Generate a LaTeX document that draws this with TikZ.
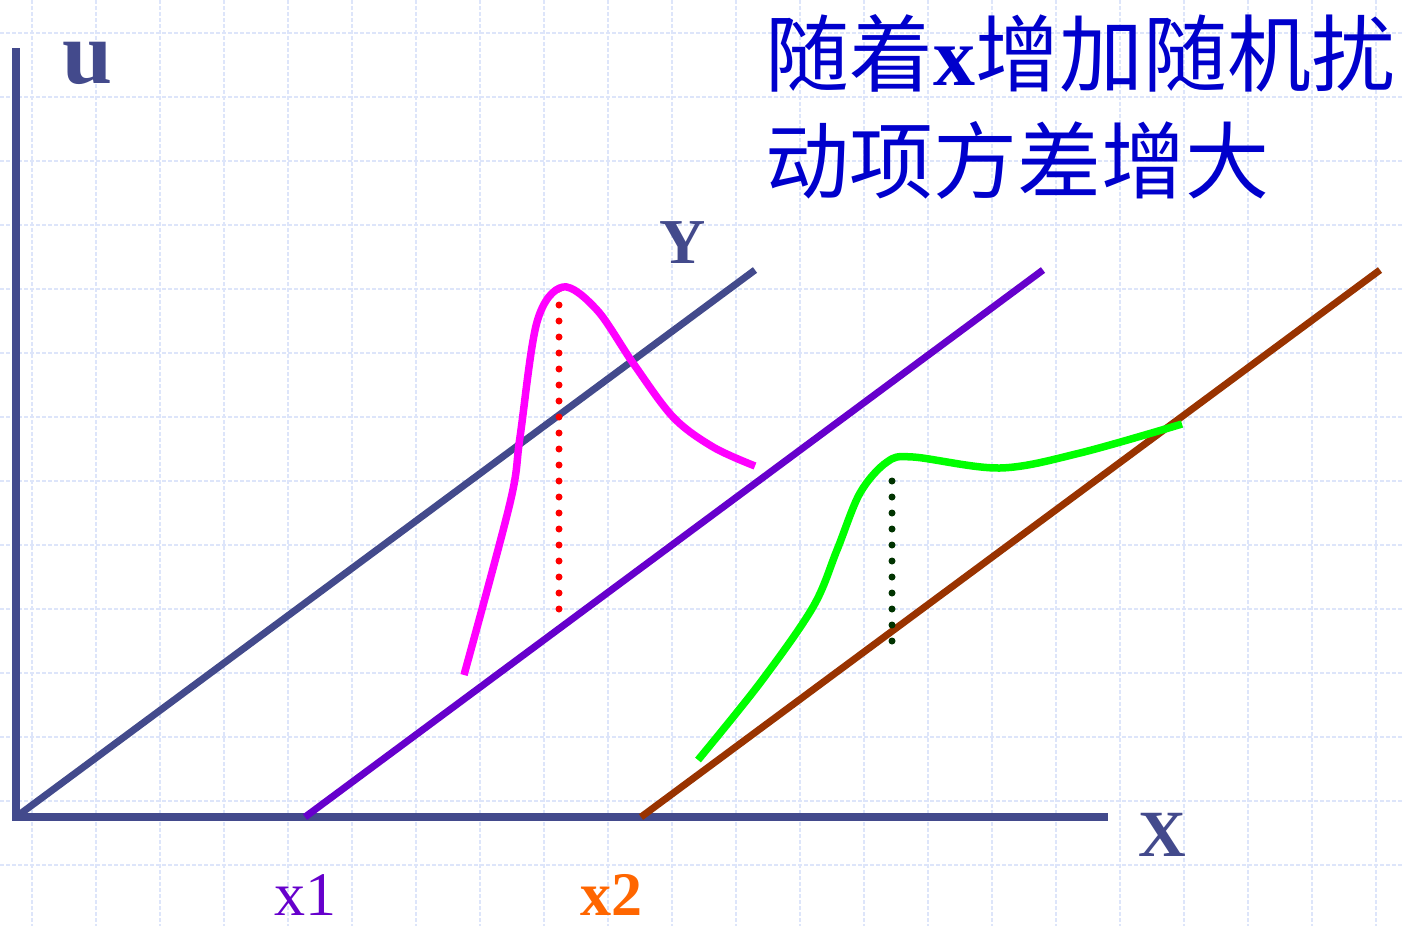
\documentclass[tikz,border=0pt]{standalone}
\usepackage{fontspec}
\setmainfont{Liberation Serif}
\newfontfamily\cjk{Noto Sans CJK SC}
\definecolor{axisblue}{HTML}{434A8C}
\definecolor{linepurple}{HTML}{6600CC}
\definecolor{linebrown}{HTML}{993300}
\definecolor{gridblue}{HTML}{DDE5FA}
\definecolor{titleblue}{HTML}{0000CC}
\definecolor{xorange}{HTML}{FF6600}
\definecolor{darkgreen}{HTML}{003300}
\definecolor{curvemagenta}{HTML}{FF00FF}
\definecolor{curvegreen}{HTML}{00FF00}
\begin{document}
\begin{tikzpicture}[x=1pt,y=-1pt,
  gridline/.style={draw=gridblue,line width=1.4pt,dash pattern=on 4pt off 2pt},
  axisline/.style={draw=axisblue,line width=8pt},
  regline/.style={line width=7pt},
  curveline/.style={line width=7.5pt},
  dotline/.style={line width=7pt,line cap=round,dash pattern=on 0pt off 16pt},
  lbl/.style={inner sep=0pt,anchor=center}]
\useasboundingbox (0,0) rectangle (1403,926);
\fill[white] (0,0) rectangle (1403,926);
% grid
\foreach \i in {0,...,21} {\draw[gridline] ({32+64*\i},0) -- ({32+64*\i},926);}
\foreach \j in {0,...,14} {\draw[gridline] (0,{33+64*\j}) -- (1403,{33+64*\j});}
% coordinates
\coordinate (utop) at (16,48);
\coordinate (O) at (16,817);
\coordinate (xend) at (1108,817);
\coordinate (Ostart) at (12,817);
\coordinate (x1p) at (305,817);
\coordinate (x2p) at (641,817);
\coordinate (e0) at (755,270);
\coordinate (e1) at (1043,270);
\coordinate (e2) at (1380,270);
% axes
\draw[axisline] (O) -- (utop);
\draw[axisline] (Ostart) -- (xend);
% regression lines
\draw[regline,axisblue] (O) -- (e0);
\draw[regline,linepurple] (x1p) -- (e1);
\draw[regline,linebrown] (x2p) -- (e2);
% dotted lines
\coordinate (r1) at (559,289);
\coordinate (r2) at (559,612);
\draw[dotline,red] (r1) -- (r2);
\coordinate (g1) at (892,481);
\coordinate (g2) at (892,643);
\draw[dotline,darkgreen] (g1) -- (g2);
% magenta curve
\draw[curveline,curvemagenta] plot[smooth,tension=0.55] coordinates
  {(464,675) (510,503) (520,437) (537,322) (563,287) (597,310) (633,363) (673,417) (713,447) (755,466)};
% green curve
\draw[curveline,curvegreen] plot[smooth,tension=0.55] coordinates
  {(698,760) (760,683) (813,607) (837,550) (860,493) (887,462) (913,457) (1000,468) (1080,453) (1182,424)};
% labels
\node[lbl,text=axisblue] (ulbl) at (88,63) {\fontsize{90}{90}\selectfont\bfseries u};
\node[lbl,text=axisblue] (ylbl) at (683,243) {\fontsize{64}{64}\selectfont\bfseries Y};
\node[lbl,text=axisblue] (xlbl) at (1162,835) {\fontsize{66}{66}\selectfont\bfseries X};
\node[lbl,text=linepurple] (x1lbl) at (305,895) {\fontsize{62}{62}\selectfont x1};
\node[lbl,text=xorange] (x2lbl) at (611,895) {\fontsize{62}{62}\selectfont\bfseries x2};
\node[inner sep=0pt,anchor=west,text=titleblue] (t1) at (765,53)
  {\fontsize{84}{84}\selectfont\cjk 随着{\rmfamily\bfseries x}增加随机扰};
\node[inner sep=0pt,anchor=west,text=titleblue] (t2) at (765,160)
  {\fontsize{84}{84}\selectfont\cjk 动项方差增大};
\end{tikzpicture}
\end{document}
